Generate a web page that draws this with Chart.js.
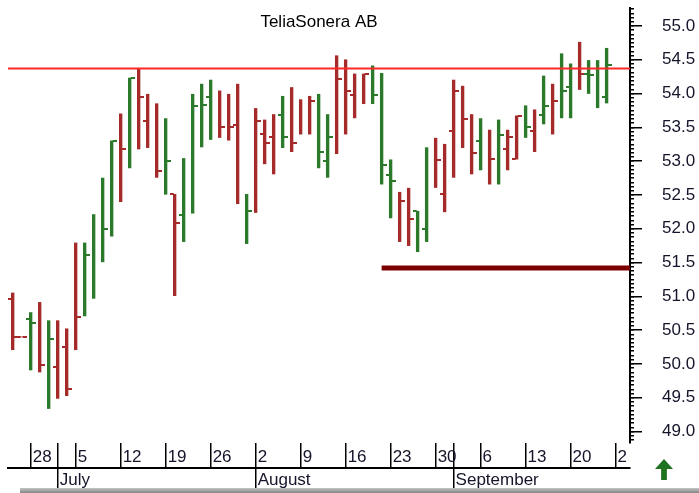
<!DOCTYPE html>
<html>
<head>
<meta charset="utf-8">
<title>TeliaSonera AB</title>
<script src="https://cdn.jsdelivr.net/npm/chart.js@4.4.0/dist/chart.umd.min.js"></script>
<style>
  html, body { margin: 0; padding: 0; background: #fff; }
  #wrap { position: relative; width: 699px; height: 493px; }
  #shadow { position: absolute; left: 20px; top: 488px; width: 679px; height: 5px;
            background: linear-gradient(#c4c4c4, #858585); }
  #arrow { position: absolute; left: 655px; top: 459px; width: 18px; height: 21px; background: #1f721f;
           clip-path: polygon(50% 0, 100% 48%, 66% 48%, 66% 100%, 34% 100%, 34% 48%, 0 48%); }
</style>
</head>
<body>
<div id="wrap">
  <canvas id="c" width="699" height="493"></canvas>
  <div id="shadow"></div>
  <div id="arrow"></div>
</div>
<script>
// daily bars, 24 Jun - 24 Sep 2010 (trading days, index 0 = 24 Jun)
let opens  = [50.96,50.40,50.67,null,null,49.95,50.25,null,null,null,
              null,null,null,null,null,53.60,null,null,52.51,52.20,
              null,null,53.95,null,null,53.54,null,null,53.40,53.36,
              53.68,null,null,null,null,53.00,null,null,53.98,null,
              null,null,52.80,null,null,52.26,52.00,null,52.51,53.45,
              null,null,53.30,null,null,53.18,53.03,null,53.45,53.68,
              null,null,54.10,null,54.29,null,53.95];
let highs  = [51.05,50.40,50.76,50.91,50.64,50.64,50.52,51.79,51.79,52.21,
              52.75,53.30,53.70,54.23,54.37,53.99,53.85,53.63,52.51,53.04,
              53.99,54.14,54.20,54.04,53.99,54.14,52.51,53.78,53.61,53.69,
              53.96,54.09,53.91,53.96,53.99,53.69,54.56,54.50,54.29,54.29,
              54.41,54.30,53.02,52.54,52.60,52.26,53.20,53.34,53.25,54.20,
              54.11,53.69,53.63,53.46,53.61,53.46,53.67,53.82,53.76,54.26,
              54.14,54.59,54.44,54.76,54.49,54.49,54.67];
let lows   = [50.21,50.40,49.91,49.88,49.34,49.49,49.53,50.21,50.71,50.97,
              51.51,51.89,52.40,52.90,53.18,53.20,52.76,52.51,51.01,51.81,
              52.23,53.21,53.32,53.35,53.31,52.37,51.78,52.24,52.96,52.81,
              53.20,53.14,53.40,53.40,52.90,52.76,53.11,53.40,53.64,53.85,
              53.85,52.66,52.16,51.81,51.75,51.66,51.81,52.61,52.25,52.76,
              53.20,52.81,52.87,52.66,52.66,52.87,53.03,53.35,53.14,53.55,
              53.40,53.64,53.64,54.06,54.00,53.79,53.86];
let closes = [50.40,50.40,50.60,49.98,50.37,null,49.63,50.69,51.61,null,
              51.99,53.30,53.18,54.23,53.95,null,52.86,53.00,52.09,null,
              53.81,53.83,null,53.50,53.50,null,52.26,53.60,53.27,null,
              53.36,53.27,null,53.89,53.13,53.36,54.22,54.04,null,54.29,
              53.98,52.94,52.71,52.41,52.14,null,null,53.01,null,54.04,
              53.62,53.12,null,53.03,53.39,53.35,53.67,53.50,null,53.81,
              53.89,54.04,null,54.29,54.28,null,54.43];
let updown = "ddududdduu" + "uududddudu" + "uuudddudd" + "du" + "ddduu" + "dddduuudd" + "uudddddudu" + "ddududuudu" + "uuuddu" + "d";

let resistance = 54.37;
let support = 51.42;
let supportFrom = 41;

let mondayIdx = [2, 7, 12, 17, 22, 27, 32, 37, 42, 47, 52, 57, 62, 67];
let mondayLabels = ["28", "5", "12", "19", "26", "2", "9", "16", "23", "30", "6", "13", "20", "2"];
let monthIdx = [5, 27, 49];
let monthLabels = ["July", "August", "September"];
let yTickLabels = [49.0, 49.5, 50.0, 50.5, 51.0, 51.5, 52.0, 52.5, 53.0, 53.5, 54.0, 54.5, 55.0];
let title = "TeliaSonera AB";

let xMin = -0.52, xMax = 68.6;
let yMin = 48.83, yMax = 55.266;

const green = "#2b7a2b";
const red = "#a52a2a";
const font = { family: "'Liberation Sans', Arial, sans-serif", size: 17 };
const txt = "#14142a";

// open/close ticks: small canvases used as point styles, left or right of the bar
function tickImg(color, side) {
  let c = document.createElement("canvas");
  c.width = 10; c.height = 2;
  let g = c.getContext("2d");
  g.fillStyle = color;
  g.fillRect(side == "left" ? 0 : 6, 0, 4, 2);
  return c;
}
const imgs = {
  openu: tickImg(green, "left"), opend: tickImg(red, "left"),
  closeu: tickImg(green, "right"), closed: tickImg(red, "right")
};

function pts(arr) {
  let out = [];
  arr.forEach((v, i) => { if (v !== null) out.push({ x: i, y: v, d: updown[i] }); });
  return out;
}

let minorTicks = [];
for (let k = -2; k <= 100; k++) minorTicks.push({ value: 49 + k * 0.0625 });

let dayTicks = mondayIdx.concat(monthIdx).filter((v, i, a) => a.indexOf(v) == i).sort((a, b) => a - b);

function noPad(s) { s.paddingTop = 0; s.paddingBottom = 0; s.paddingLeft = 0; s.paddingRight = 0; }

// title sits inside the plot, centred over it
const titlePlugin = {
  id: "insideTitle",
  afterDraw(chart) {
    let ctx = chart.ctx, a = chart.chartArea;
    ctx.save();
    ctx.font = "17px " + font.family;
    ctx.fillStyle = "#000";
    ctx.textAlign = "center";
    ctx.textBaseline = "middle";
    ctx.fillText(title, (a.left + a.right) / 2, 22);
    ctx.restore();
  }
};

new Chart(document.getElementById("c"), {
  type: "bar",
  plugins: [titlePlugin],
  data: {
    datasets: [
      { type: "line", data: [{ x: xMin, y: resistance }, { x: xMax, y: resistance }],
        borderColor: "#ff2828", borderWidth: 2, pointRadius: 0, xAxisID: "x", yAxisID: "y" },
      { type: "line", data: [{ x: supportFrom, y: support }, { x: xMax, y: support }],
        borderColor: "#7d0000", borderWidth: 5, borderCapStyle: "butt", pointRadius: 0, xAxisID: "x", yAxisID: "y" },
      { type: "line", showLine: false, data: pts(opens), pointRadius: 3, xAxisID: "x", yAxisID: "y",
        pointStyle: ctx => ctx.raw && ctx.raw.d == "u" ? imgs.openu : imgs.opend },
      { type: "line", showLine: false, data: pts(closes), pointRadius: 3, xAxisID: "x", yAxisID: "y",
        pointStyle: ctx => ctx.raw && ctx.raw.d == "u" ? imgs.closeu : imgs.closed },
      { type: "bar", data: highs.map((h, i) => ({ x: i, y: [lows[i], h] })),
        backgroundColor: highs.map((h, i) => updown[i] == "u" ? green : red),
        barThickness: 2.7, grouped: false, xAxisID: "x", yAxisID: "y" }
    ]
  },
  options: {
    responsive: false,
    animation: false,
    events: [],
    layout: { padding: { left: 8, top: 8 } },
    plugins: {
      legend: { display: false },
      tooltip: { enabled: false },
      title: { display: false }
    },
    scales: {
      x: {
        type: "linear", position: "bottom", weight: 1, min: xMin, max: xMax, offset: false,
        border: { display: false },
        grid: { drawOnChartArea: false, offset: false, tickLength: 24, color: "#000", lineWidth: 1.5 },
        ticks: { autoSkip: false, maxRotation: 0, align: "start", padding: -20.2, labelOffset: 2,
                 font: font, color: txt,
                 callback: v => { let k = mondayIdx.indexOf(v); return k < 0 ? "" : mondayLabels[k]; } },
        afterBuildTicks: s => { s.ticks = dayTicks.map(v => ({ value: v })); },
        afterFit: s => { s.height = 25; noPad(s); }
      },
      xm: {
        type: "linear", position: "bottom", weight: 2, min: xMin, max: xMax, offset: false,
        border: { display: true, color: "#000", width: 2 },
        grid: { drawOnChartArea: false, offset: false, tickLength: 22, color: "#000", lineWidth: 1.5 },
        ticks: { autoSkip: false, maxRotation: 0, align: "start", padding: -20.2, labelOffset: 2,
                 font: font, color: txt,
                 callback: v => { let k = monthIdx.indexOf(v); return k < 0 ? "" : monthLabels[k]; } },
        afterBuildTicks: s => { s.ticks = monthIdx.map(v => ({ value: v })); },
        afterFit: s => { s.height = 25; noPad(s); }
      },
      ym: {
        type: "linear", position: "right", weight: 0, min: yMin, max: yMax,
        border: { display: false },
        grid: { drawOnChartArea: false, tickLength: 4, color: "#000", lineWidth: 1.5 },
        ticks: { display: false },
        afterBuildTicks: s => { s.ticks = minorTicks.filter(t => t.value >= yMin && t.value <= yMax); },
        afterFit: s => { s.width = 0; noPad(s); }
      },
      y: {
        type: "linear", position: "right", weight: 1, min: yMin, max: yMax,
        border: { display: true, color: "#000", width: 2 },
        grid: { drawOnChartArea: false, tickLength: 12, color: "#000", lineWidth: 1.5 },
        ticks: { padding: 20, font: font, color: txt, callback: v => v.toFixed(1) },
        afterBuildTicks: s => { s.ticks = yTickLabels.map(v => ({ value: v })); },
        afterFit: s => { s.width = 69; noPad(s); }
      }
    }
  }
});
</script>
</body>
</html>
